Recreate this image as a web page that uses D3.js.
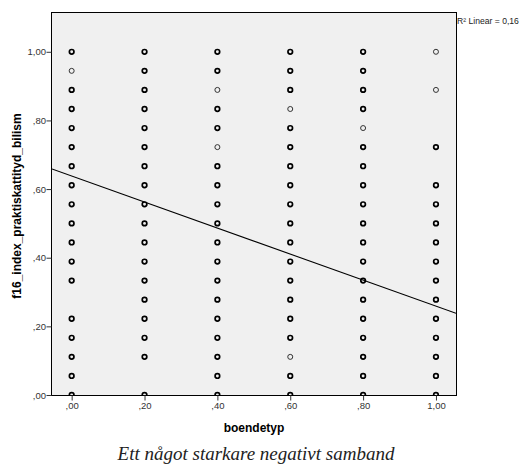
<!DOCTYPE html>
<html>
<head>
<meta charset="utf-8">
<script src="https://cdn.jsdelivr.net/npm/d3@7"></script>
<style>
  html, body { margin: 0; padding: 0; background: #fff; }
  svg { display: block; }
</style>
</head>
<body>
<svg id="chart" width="523" height="468"></svg>
<script>
// ---- data ----
const xCategories = [0.0, 0.2, 0.4, 0.6, 0.8, 1.0];
const yLevels = d3.range(0, 19).map(i => i / 18); // 0, 1/18, ... 1
// counts per y level (index 0 = 0.00 ... 18 = 1.00); 0 = none, 1 = single, 2 = several
const counts00 = [2,2,2,2,2,0,2,2,2,2,2,2,2,2,2,2,2,1,2];
const counts20 = [2,0,2,2,2,2,2,2,2,2,2,2,2,2,2,2,2,2,2];
const counts40 = [2,2,2,2,2,2,2,2,2,2,2,2,2,1,2,2,1,2,2];
const counts60 = [2,2,1,2,2,2,2,2,2,2,2,2,2,2,2,1,2,2,2];
const counts80 = [2,2,2,2,2,2,2,2,2,2,2,2,2,2,1,2,2,2,2];
const counts100 = [2,2,2,2,2,2,2,2,2,2,2,2,0,2,0,0,1,0,1];
const allCounts = [counts00, counts20, counts40, counts60, counts80, counts100];
const xTicks = [0, 0.2, 0.4, 0.6, 0.8, 1.0];
const yTicks = [0, 0.2, 0.4, 0.6, 0.8, 1.0];
const fitIntercept = 0.638;
const fitSlope = -0.379;
const r2Label = "R² Linear = 0,16";
const xTitle = "boendetyp";
const yTitle = "f16_index_praktiskattityd_bilism";
const caption = "Ett något starkare negativt samband";

// ---- layout ----
const L = 52, R = 456, T = 13, B = 395;
const svg = d3.select("#chart");
const x = d3.scaleLinear().domain([-0.054, 1.055]).range([L, R]);
const y = d3.scaleLinear().domain([0, 1.113]).range([B, T]);
const fmt = d => d3.format(".2f")(d).replace(/^0\./, ".").replace(".", ",");

svg.append("defs").append("clipPath").attr("id", "plotclip")
  .append("rect").attr("x", L).attr("y", T).attr("width", R - L).attr("height", B - T + 0.5);

svg.append("rect").attr("x", L).attr("y", T).attr("width", R - L).attr("height", B - T)
  .attr("fill", "#f0f0f0");

// points
const pts = [];
xCategories.forEach((cx, ci) => {
  allCounts[ci].forEach((c, li) => { if (c > 0) pts.push({x: cx, y: yLevels[li], c}); });
});
svg.append("g").attr("clip-path", "url(#plotclip)")
  .selectAll("circle").data(pts).join("circle")
  .attr("cx", d => x(d.x)).attr("cy", d => y(d.y))
  .attr("r", d => d.c > 1 ? 2.3 : 2.5)
  .attr("fill", "none")
  .attr("stroke", d => d.c > 1 ? "#000" : "#333")
  .attr("stroke-width", d => d.c > 1 ? 1.7 : 1.0);

// fit line
const xd = x.domain();
svg.append("g").attr("clip-path", "url(#plotclip)")
  .append("line")
  .attr("x1", x(xd[0])).attr("y1", y(fitIntercept + fitSlope * xd[0]))
  .attr("x2", x(xd[1])).attr("y2", y(fitIntercept + fitSlope * xd[1]))
  .attr("stroke", "#000").attr("stroke-width", 1.1);

// frame
svg.append("rect").attr("x", L - 0.5).attr("y", T - 0.5).attr("width", R - L + 1).attr("height", B - T + 1)
  .attr("fill", "none").attr("stroke", "#000").attr("stroke-width", 1);

// axes
const xAxis = d3.axisBottom(x).tickValues(xTicks).tickFormat(fmt).tickSize(5).tickSizeOuter(0);
const gx = svg.append("g").attr("transform", `translate(0,${B + 0.5})`).call(xAxis);
gx.select(".domain").remove();
gx.selectAll("line").attr("stroke", "#333");
gx.selectAll("text").attr("font-family", "Liberation Sans, Arial, sans-serif")
  .attr("font-size", 9.5).attr("fill", "#333").attr("dy", "0.9em").attr("y", 5);

const yAxis = d3.axisLeft(y).tickValues(yTicks).tickFormat(fmt).tickSize(5).tickSizeOuter(0);
const gy = svg.append("g").attr("transform", `translate(${L - 0.5},0)`).call(yAxis);
gy.select(".domain").remove();
gy.selectAll("line").attr("stroke", "#333");
gy.selectAll("text").attr("font-family", "Liberation Sans, Arial, sans-serif")
  .attr("font-size", 9.5).attr("fill", "#333").attr("x", -5.5);

// titles
svg.append("text").attr("x", (L + R) / 2).attr("y", 432).attr("text-anchor", "middle")
  .attr("font-family", "Liberation Sans, Arial, sans-serif").attr("font-weight", "bold")
  .attr("font-size", 12).text(xTitle);
svg.append("text").attr("transform", `translate(21,${(T + B) / 2 + 2}) rotate(-90)`)
  .attr("text-anchor", "middle")
  .attr("font-family", "Liberation Sans, Arial, sans-serif").attr("font-weight", "bold")
  .attr("font-size", 12).text(yTitle);

svg.append("text").attr("x", R + 1).attr("y", 24)
  .attr("font-family", "Liberation Sans, Arial, sans-serif").attr("font-size", 8.6)
  .attr("fill", "#222").text(r2Label);

svg.append("text").attr("x", 256).attr("y", 460).attr("text-anchor", "middle")
  .attr("font-family", "Liberation Serif, Times New Roman, serif").attr("font-style", "italic")
  .attr("font-size", 19).attr("fill", "#222").text(caption);
</script>
</body>
</html>
